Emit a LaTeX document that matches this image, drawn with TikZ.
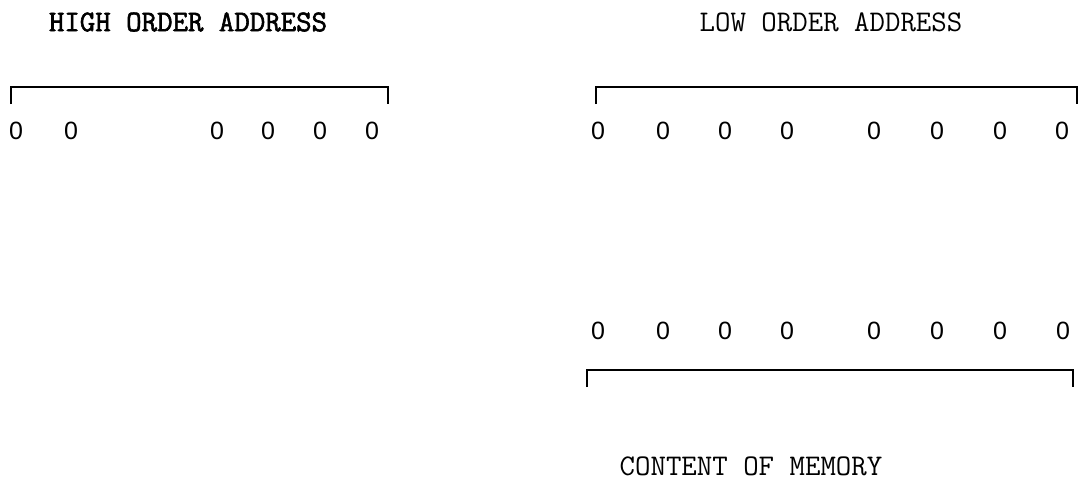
\documentclass[tikz,border=0pt]{standalone}
\usepackage{fontspec}
\setmainfont{Liberation Serif}
\setsansfont{Liberation Sans}
\newfontfamily\boldmono[FakeBold=2]{Latin Modern Mono}
\usepackage{tikz}
\usetikzlibrary{positioning}

\begin{document}
\begin{tikzpicture}[x=1pt, y=-1pt,
    bit/.style={inner sep=0pt, font=\sffamily\fontsize{25}{25}\selectfont},
    head/.style={inner sep=0pt, font=\ttfamily\fontsize{30}{30}\selectfont},
    brk/.style={line width=1.6pt}
]
\useasboundingbox (0,0) rectangle (1086,482);

% High order address
\node[head, font=\boldmono\fontsize{30}{30}\selectfont] (hititle) at (188,22) {HIGH ORDER ADDRESS};
\coordinate (hil) at (11,104);
\coordinate (hir) at (388,104);
\draw[brk] (hil) -- ++(0,-17) -| (hir);
\node[bit] (h1) at (16,131) {0};
\node[bit] (h2) at (71,131) {0};
\node[bit] (h3) at (217,131) {0};
\node[bit] (h4) at (268,131) {0};
\node[bit] (h5) at (320,131) {0};
\node[bit] (h6) at (372,131) {0};

% Low order address
\node[head] (lotitle) at (831,22) {LOW ORDER ADDRESS};
\coordinate (lol) at (596,104);
\coordinate (lor) at (1077,104);
\draw[brk] (lol) -- ++(0,-17) -| (lor);
\node[bit] (l1) at (598,131) {0};
\node[bit] (l2) at (663,131) {0};
\node[bit] (l3) at (725,131) {0};
\node[bit] (l4) at (787,131) {0};
\node[bit] (l5) at (874,131) {0};
\node[bit] (l6) at (937,131) {0};
\node[bit] (l7) at (1000,131) {0};
\node[bit] (l8) at (1062,131) {0};

% Content of memory
\node[bit] (m1) at (598,331) {0};
\node[bit] (m2) at (663,331) {0};
\node[bit] (m3) at (725,331) {0};
\node[bit] (m4) at (787,331) {0};
\node[bit] (m5) at (874,331) {0};
\node[bit] (m6) at (937,331) {0};
\node[bit] (m7) at (1000,331) {0};
\node[bit] (m8) at (1063,331) {0};
\coordinate (mel) at (587,387);
\coordinate (mer) at (1073,387);
\draw[brk] (mel) -- ++(0,-17) -| (mer);
\node[head] (metitle) at (751,466) {CONTENT OF MEMORY};
\end{tikzpicture}
\end{document}
